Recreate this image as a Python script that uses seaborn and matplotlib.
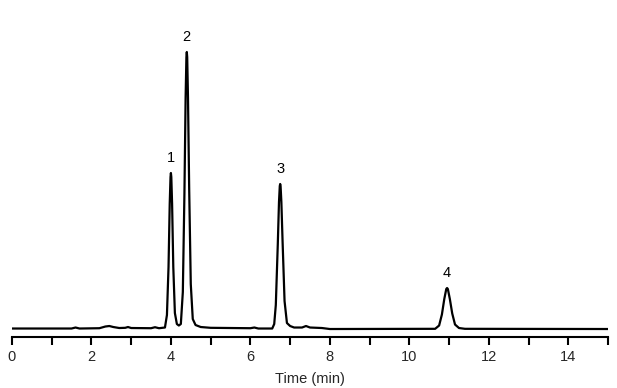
import matplotlib
matplotlib.use("Agg")
import matplotlib.pyplot as plt
from matplotlib.ticker import MultipleLocator
import seaborn as sns
import pandas as pd

# Chromatogram trace (time in min, signal in arbitrary units)
time = [0.00, 1.50, 1.60, 1.70, 2.20, 2.35, 2.45, 2.55, 2.70, 2.85, 2.92, 3.00,
        3.50, 3.60, 3.70, 3.85, 3.90, 3.94, 3.97, 3.99, 4.00, 4.01, 4.03, 4.06,
        4.10, 4.15, 4.20, 4.25, 4.30, 4.34, 4.37, 4.39, 4.40, 4.41, 4.43, 4.46,
        4.50, 4.55, 4.62, 4.75, 5.00, 6.00, 6.10, 6.20, 6.55, 6.60, 6.64, 6.69,
        6.72, 6.74, 6.75, 6.76, 6.78, 6.81, 6.86, 6.92, 7.00, 7.10, 7.30, 7.40,
        7.50, 7.80, 8.00, 10.65, 10.75, 10.82, 10.88, 10.93, 10.95, 10.97,
        11.02, 11.08, 11.15, 11.25, 11.40, 15.00]
signal = [0.5, 0.5, 1.5, 0.5, 0.8, 2.5, 3.0, 2.0, 1.0, 1.2, 2.0, 1.0,
          0.8, 1.8, 0.8, 1.5, 14, 62, 125, 152, 156, 152, 125, 62,
          16, 5, 3.5, 5, 37, 135, 231, 272, 277, 272, 231, 140,
          45, 10, 4, 2, 1.2, 0.8, 1.5, 0.5, 0.5, 5, 24, 85,
          127, 143, 145, 143, 127, 88, 28, 6, 3, 1.5, 1.5, 3,
          1.5, 1.0, 0.0, 0.2, 3.5, 14.5, 30, 40, 41, 40,
          30, 15.5, 4.5, 1, 0.2, 0.0]

peak_labels = ["1", "2", "3", "4"]
peak_times = [4.00, 4.40, 6.75, 10.95]
peak_heights = [156, 277, 145, 41]

x_ticks = [0, 2, 4, 6, 8, 10, 12, 14]
x_label = "Time (min)"

sns.set_style("white")
plt.rcParams["font.family"] = ["Liberation Sans", "DejaVu Sans"]

df = pd.DataFrame({"time": time, "signal": signal})

fig = plt.figure(figsize=(6.17, 3.88), dpi=100)
ax = fig.add_axes([0.0194, 0.1314, 0.966, 0.8686])
sns.lineplot(data=df, x="time", y="signal", ax=ax, color="black", lw=1.6,
             estimator=None, sort=False)

for lab, t, h in zip(peak_labels, peak_times, peak_heights):
    ax.annotate(lab, (t, h), xytext=(0, 6), textcoords="offset points",
                ha="center", va="bottom", fontsize=10.5, color="black")

ax.set_xlim(0, 15)
ax.set_ylim(-8, 329)
ax.set_xticks(x_ticks)
ax.set_xticklabels([str(v) for v in x_ticks])
ax.xaxis.set_minor_locator(MultipleLocator(1))
ax.tick_params(axis="x", which="both", direction="out", length=5.5, width=1.5,
               color="black", bottom=True)
ax.tick_params(axis="x", which="major", labelsize=10.5, pad=3.5)
ax.set_yticks([])
ax.set_xlabel(x_label, fontsize=10.5, labelpad=6)
ax.set_ylabel("")
for s in ["top", "left", "right"]:
    ax.spines[s].set_visible(False)
ax.spines["bottom"].set_linewidth(1.5)
ax.spines["bottom"].set_color("black")

fig.savefig("out.png", dpi=100)
